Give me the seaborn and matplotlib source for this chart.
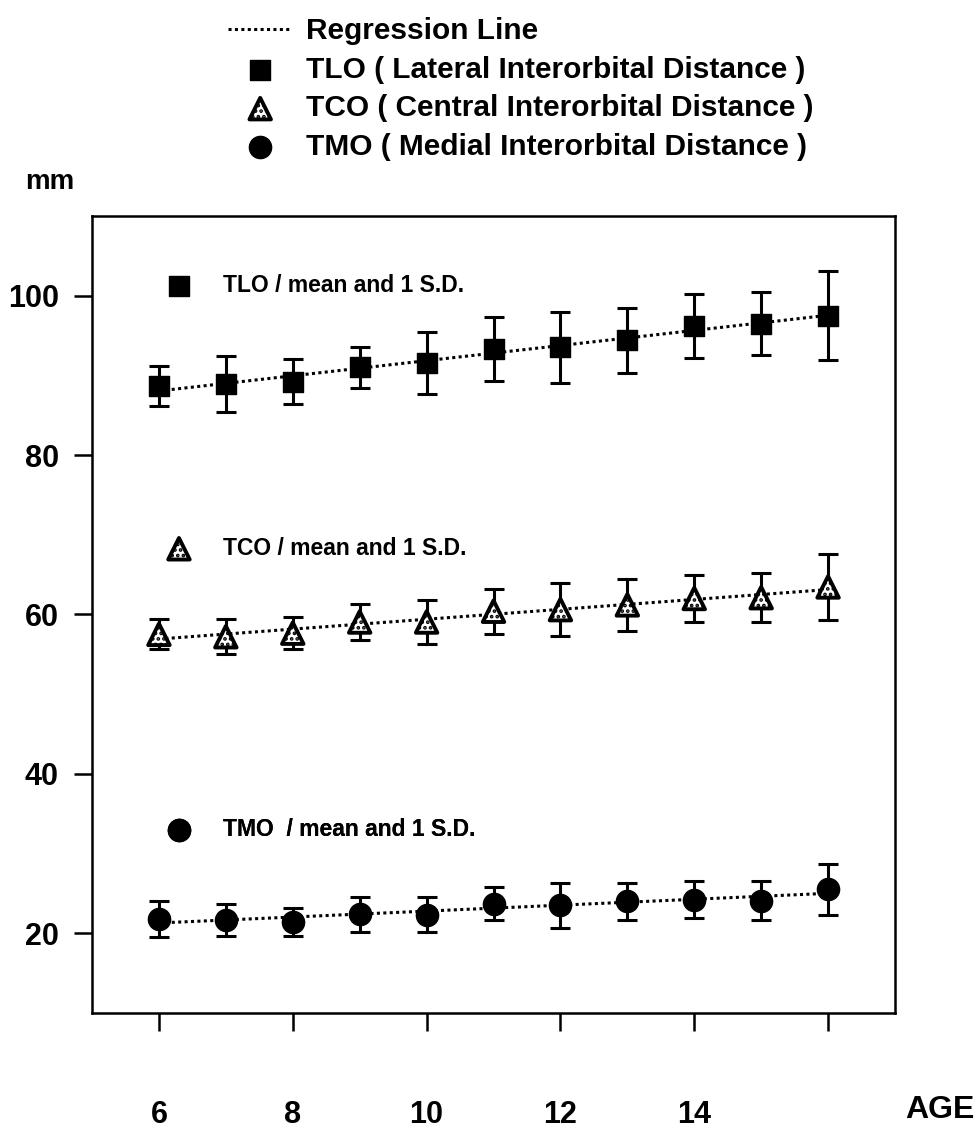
import numpy as np
import pandas as pd
import matplotlib
matplotlib.use('Agg')
import matplotlib.pyplot as plt
from matplotlib.lines import Line2D
import seaborn as sns

# ---- data ----
ages = [6, 7, 8, 9, 10, 11, 12, 13, 14, 15, 16]
tlo_mean = [88.65, 88.9, 89.2, 91.0, 91.55, 93.3, 93.5, 94.4, 96.2, 96.5, 97.5]
tlo_sd = [2.55, 3.5, 2.8, 2.6, 3.85, 4.05, 4.4, 4.1, 4.0, 3.9, 5.6]
tco_mean = [57.5, 57.2, 57.65, 59.05, 59.05, 60.4, 60.6, 61.2, 62.0, 62.1, 63.45]
tco_sd = [1.9, 2.2, 2.05, 2.25, 2.75, 2.8, 3.3, 3.3, 2.9, 3.1, 4.15]
tmo_mean = [21.8, 21.7, 21.4, 22.4, 22.3, 23.7, 23.5, 24.0, 24.2, 24.1, 25.5]
tmo_sd = [2.3, 2.0, 1.8, 2.2, 2.2, 2.1, 2.8, 2.35, 2.3, 2.5, 3.2]

x_ticks = [6, 8, 10, 12, 14, 16]
x_ticklabels = ['6', '8', '10', '12', '14', '']
y_ticks = [20, 40, 60, 80, 100]

legend_labels = ['TLO ( Lateral Interorbital Distance )',
                 'TCO ( Central Interorbital Distance )',
                 'TMO ( Medial Interorbital Distance )']
inner_labels = ['TLO / mean and 1 S.D.', 'TCO / mean and 1 S.D.', 'TMO  / mean and 1 S.D.']

# ---- style ----
sns.set_style('ticks')
plt.rcParams['font.family'] = ['Liberation Sans', 'DejaVu Sans']
plt.rcParams['font.weight'] = 'bold'
plt.rcParams['text.color'] = 'black'
plt.rcParams['axes.labelcolor'] = 'black'
plt.rcParams['xtick.color'] = 'black'
plt.rcParams['ytick.color'] = 'black'
plt.rcParams['hatch.linewidth'] = 1.8
plt.rcParams['hatch.color'] = 'black'

fig = plt.figure(figsize=(9.79, 11.33), dpi=100)
ax = fig.add_axes([0.094, 0.106, 0.8202, 0.7034])

series = [
    (tlo_mean, tlo_sd, 's', 14.5, 'black', None, 1.0),
    (tco_mean, tco_sd, '^', 15.5, 'white', '...', 2.8),
    (tmo_mean, tmo_sd, 'o', 16.0, 'black', None, 1.0),
]

handles = []
for mean, sd, marker, ms, face, hatch, elw in series:
    ax.errorbar(ages, mean, yerr=sd, fmt='none', ecolor='black',
                elinewidth=2.2, capsize=7, capthick=2.2, zorder=2)
    sns.regplot(x=ages, y=mean, scatter=False, ci=None, ax=ax, color='black',
                line_kws=dict(lw=2.2, ls=(0, (1, 1.1)), zorder=3))
    kw = dict(hatch=hatch) if hatch else {}
    sns.scatterplot(x=ages, y=mean, marker=marker, s=ms ** 2, color=face,
                    edgecolor='black', linewidth=elw, ax=ax, zorder=4, **kw)
    handles.append(ax.collections[-1])

ax.set_xlim(5, 17)
ax.set_ylim(10, 110)
ax.set_xticks(x_ticks)
ax.set_xticklabels(x_ticklabels)
ax.set_yticks(y_ticks)
ax.set_xlabel('')
ax.set_ylabel('')
ax.tick_params(axis='both', direction='out', length=13, width=1.8,
               labelsize=22, color='black', labelcolor='black')
ax.tick_params(axis='x', pad=50)
ax.tick_params(axis='y', pad=11)
for sp in ax.spines.values():
    sp.set_visible(True)
    sp.set_linewidth(1.8)
    sp.set_color('black')

# in-plot marker labels
inner_y = [0.913, 0.583, 0.2296]
for h, lab, yy in zip(handles, inner_labels, inner_y):
    lg = ax.legend([h], [lab], loc='center left', bbox_to_anchor=(0.094, yy),
                   frameon=False, borderpad=0, borderaxespad=0,
                   handlelength=1.0, handletextpad=1.4, scatterpoints=1,
                   prop=dict(size=16.5, weight='bold'))
    ax.add_artist(lg)

# top legend
reg_proxy = Line2D([], [], color='black', lw=2.2, ls=(0, (1, 1.1)))
fig.legend([reg_proxy] + handles, ['Regression Line'] + legend_labels,
           loc='upper left', bbox_to_anchor=(0.233, 0.985), frameon=False,
           borderpad=0, borderaxespad=0, handlelength=2.15, handletextpad=0.45,
           labelspacing=0.36, scatterpoints=1,
           prop=dict(size=21.5, weight='bold'))

fig.text(25 / 979, 1 - 182 / 1133, 'mm', ha='left', va='center',
         fontsize=20, fontweight='bold')
fig.text(905 / 979, 1 - 1110 / 1133, 'AGE', ha='left', va='center',
         fontsize=23, fontweight='bold')

fig.savefig('out.png', dpi=100)
